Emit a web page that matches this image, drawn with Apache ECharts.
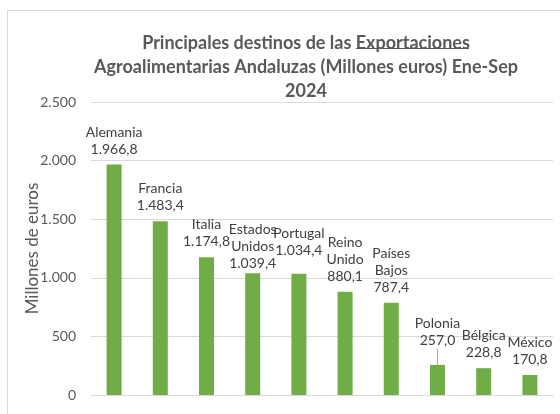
<!DOCTYPE html>
<html>
<head>
<meta charset="utf-8">
<script src="https://cdn.jsdelivr.net/npm/echarts@6/dist/echarts.min.js"></script>
<style>
  html, body { margin: 0; padding: 0; background: #fff; }
  #frame { position: absolute; left: 7px; top: 10px; width: 600px; height: 450px; border: 1px solid #d9d9d9; }
  #main { position: absolute; left: 0; top: 0; width: 560px; height: 414px; }
</style>
</head>
<body>
<div id="frame"></div>
<div id="main"></div>
<script>
// datos
var paises = ['Alemania', 'Francia', 'Italia', 'Estados\nUnidos', 'Portugal', 'Reino\nUnido', 'Países\nBajos', 'Polonia', 'Bélgica', 'México'];
var valores = [1966.8, 1483.4, 1174.8, 1039.4, 1034.4, 880.1, 787.4, 257.0, 228.8, 170.8];
var ejeY = [0, 500, 1000, 1500, 2000, 2500];

// formato español: 1.966,8
function fmt(v, dec) {
  var s = v.toFixed(dec);
  var parts = s.split('.');
  var ent = parts[0].replace(/\B(?=(\d{3})+(?!\d))/g, '.');
  return parts.length > 1 ? ent + ',' + parts[1] : ent;
}

// desplazamiento vertical de algunas etiquetas
var ajuste = { 'Estados\nUnidos': 6, 'Portugal': -8, 'Polonia': -9 };
var conLinea = 'Polonia'; // etiqueta con línea guía

var chart = echarts.init(document.getElementById('main'));

var option = {
  animation: false,
  textStyle: { fontFamily: 'Lato' },
  title: {
    text: 'Principales destinos de las Exportaciones\nAgroalimentarias Andaluzas (Millones euros) Ene-Sep\n2024',
    left: 301,
    top: 26,
    textAlign: 'center',
    textStyle: { fontSize: 18, fontWeight: 'bold', color: '#595959', lineHeight: 24, fontFamily: 'Lato' }
  },
  graphic: [{
    type: 'line',
    shape: { x1: 356, y1: 48.5, x2: 469, y2: 48.5 },
    style: { stroke: '#595959', lineWidth: 1 }
  }],
  grid: { left: 91, right: 7, top: 102, bottom: 19 },
  xAxis: {
    type: 'category',
    data: paises,
    axisLine: { show: true, lineStyle: { color: '#d9d9d9' } },
    axisTick: { show: false },
    axisLabel: { show: false }
  },
  yAxis: {
    type: 'value',
    min: ejeY[0],
    max: ejeY[ejeY.length - 1],
    interval: 500,
    name: 'Millones de euros',
    nameLocation: 'middle',
    nameGap: 50,
    nameMoveOverlap: false,
    nameTextStyle: { fontSize: 17, color: '#595959', fontFamily: 'Lato' },
    axisLine: { show: false },
    axisTick: { show: false },
    axisLabel: { fontSize: 14, color: '#595959', margin: 15, formatter: function (v) { return fmt(v, 0); } },
    splitLine: { lineStyle: { color: '#d9d9d9' } }
  },
  series: [{
    type: 'bar',
    barWidth: 15,
    itemStyle: { color: '#70AD47' },
    data: valores.map(function (v, i) {
      return { value: v, labelLine: { show: paises[i] === conLinea } };
    }),
    label: {
      show: true,
      position: 'top',
      distance: 7,
      fontSize: 14,
      lineHeight: 17,
      color: '#404040',
      fontFamily: 'Lato',
      formatter: function (p) { return paises[p.dataIndex] + '\n' + fmt(p.value, 1); }
    },
    labelLine: { show: true, lineStyle: { color: '#a6a6a6', width: 1 } },
    labelLayout: function (p) {
      var name = paises[p.dataIndex];
      if (ajuste[name]) return { dy: ajuste[name] };
      return {};
    }
  }]
};

chart.setOption(option);
</script>
</body>
</html>
